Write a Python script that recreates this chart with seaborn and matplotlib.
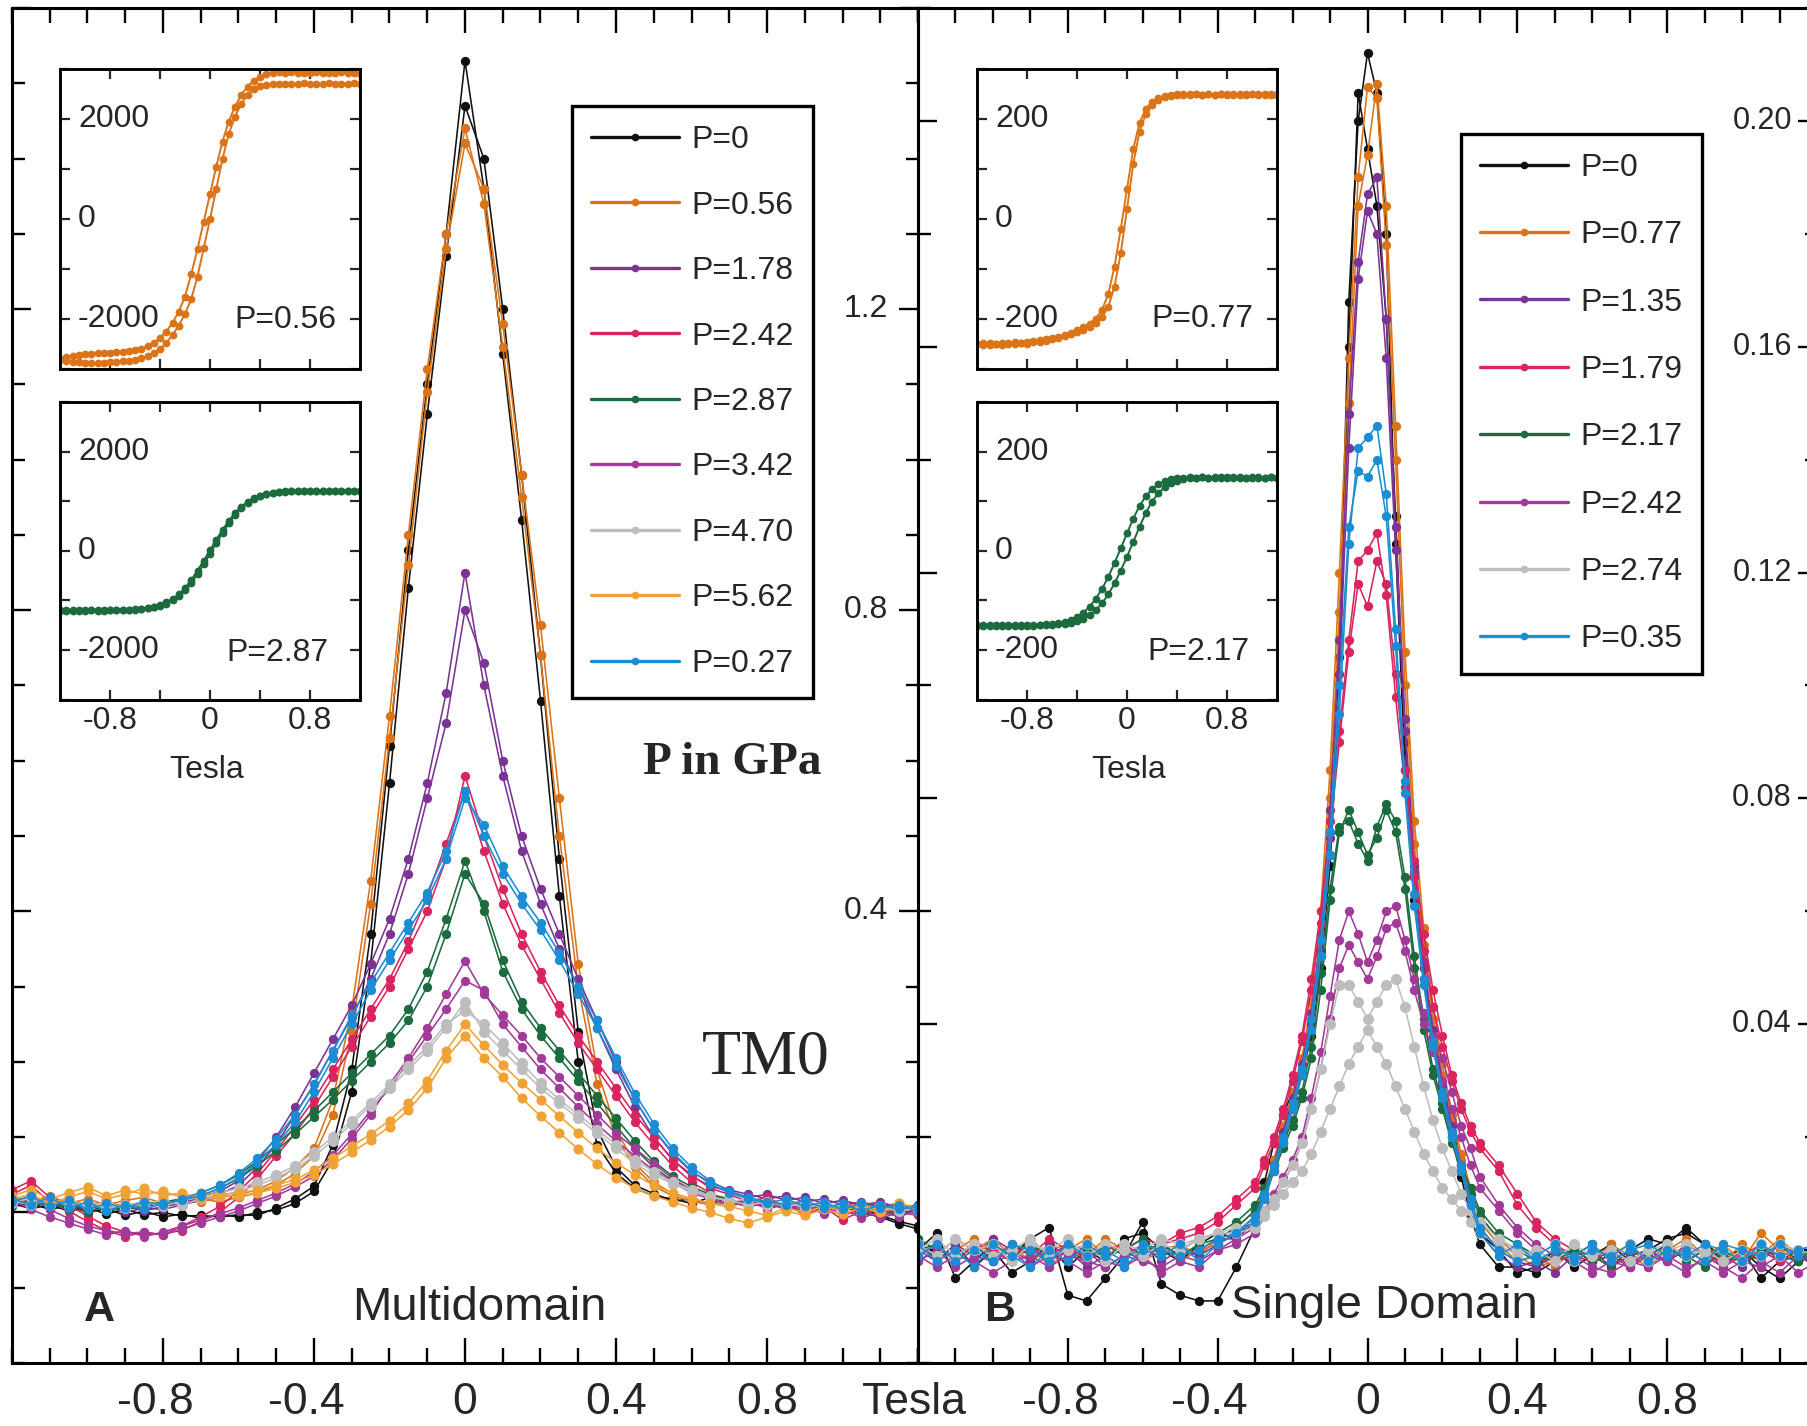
import matplotlib
matplotlib.use("Agg")
import matplotlib.pyplot as plt
import seaborn as sns
from matplotlib.ticker import MultipleLocator, FixedLocator
from matplotlib.lines import Line2D

# ---------------------------------------------------------------- data
FIELD_A = [-1.2, -1.15, -1.1, -1.05, -1.0, -0.95, -0.9, -0.85, -0.8, -0.75, -0.7, -0.65,
           -0.6, -0.55, -0.5, -0.45, -0.4, -0.35, -0.3, -0.25, -0.2, -0.15, -0.1, -0.05,
           0.0, 0.05, 0.1, 0.15, 0.2, 0.25, 0.3, 0.35, 0.4, 0.45, 0.5, 0.55, 0.6,
           0.65, 0.7, 0.75, 0.8, 0.85, 0.9, 0.95, 1.0, 1.05, 1.1, 1.15, 1.2]

FIELD_B = [-1.2, -1.15, -1.1, -1.05, -1.0, -0.95, -0.9, -0.85, -0.8, -0.75, -0.7, -0.65, -0.6,
           -0.55, -0.5, -0.45, -0.4, -0.35, -0.3,
           -0.275, -0.25, -0.225, -0.2, -0.175, -0.15, -0.125, -0.1, -0.075, -0.05, -0.025, 0.0,
           0.025, 0.05, 0.075, 0.1, 0.125, 0.15, 0.175, 0.2, 0.225, 0.25, 0.275,
           0.3, 0.35, 0.4, 0.45, 0.5, 0.55, 0.6, 0.65, 0.7, 0.75, 0.8, 0.85, 0.9, 0.95,
           1.0, 1.05, 1.1, 1.15, 1.2]

X_TICKS = [-0.8, -0.4, 0, 0.4, 0.8]
X_TICK_LABELS = ["-0.8", "-0.4", "0", "0.4", "0.8"]
A_LABELS = ["P=0", "P=0.56", "P=1.78", "P=2.42", "P=2.87", "P=3.42", "P=4.70", "P=5.62", "P=0.27"]
B_LABELS = ["P=0", "P=0.77", "P=1.35", "P=1.79", "P=2.17", "P=2.42", "P=2.74", "P=0.35"]

# Panel A (Multidomain) - two field sweeps per pressure
A_P000_UP = [0.012, 0.005, 0.010, 0.002, 0.006, -0.002, 0.004, -0.003, 0.000, -0.005, -0.004, -0.006,
             -0.003, -0.004, 0.006, 0.018, 0.035, 0.09, 0.19, 0.37, 0.62, 0.88, 1.10, 1.30,
             1.53, 1.36, 1.14, 0.92, 0.68, 0.42, 0.20, 0.09, 0.052, 0.032, 0.022, 0.018, 0.012,
             0.020, 0.014, 0.016, 0.008, 0.014, 0.005, 0.010, 0.004, 0.006, -0.004, -0.012, -0.018]
A_P000_DN = [0.008, 0.012, 0.004, 0.009, 0.000, 0.005, -0.004, 0.002, -0.006, -0.002, -0.008, -0.003,
             -0.006, 0.000, 0.003, 0.012, 0.028, 0.07, 0.16, 0.33, 0.57, 0.83, 1.06, 1.27,
             1.47, 1.40, 1.20, 0.98, 0.74, 0.47, 0.24, 0.11, 0.060, 0.036, 0.025, 0.015, 0.018,
             0.012, 0.018, 0.010, 0.016, 0.008, 0.012, 0.002, 0.008, 0.000, -0.006, -0.015, -0.022]
A_P056_UP = [0.020, 0.014, 0.022, 0.012, 0.018, 0.010, 0.016, 0.020, 0.012, 0.018, 0.014, 0.020,
             0.024, 0.030, 0.042, 0.060, 0.085, 0.15, 0.27, 0.44, 0.66, 0.90, 1.12, 1.30,
             1.44, 1.34, 1.15, 0.95, 0.74, 0.50, 0.30, 0.17, 0.10, 0.060, 0.035, 0.022, 0.015,
             0.010, 0.014, 0.008, 0.012, 0.006, 0.010, 0.004, 0.008, 0.012, 0.006, 0.010, 0.004]
A_P056_DN = [0.016, 0.020, 0.012, 0.016, 0.010, 0.014, 0.008, 0.014, 0.010, 0.012, 0.018, 0.014,
             0.020, 0.026, 0.036, 0.052, 0.075, 0.13, 0.24, 0.41, 0.63, 0.86, 1.09, 1.28,
             1.42, 1.36, 1.18, 0.98, 0.78, 0.55, 0.33, 0.19, 0.11, 0.065, 0.040, 0.025, 0.018,
             0.012, 0.008, 0.014, 0.006, 0.010, 0.004, 0.010, 0.006, 0.008, 0.012, 0.006, 0.010]
A_P178_UP = [0.018, 0.010, 0.016, 0.006, 0.012, 0.004, 0.010, 0.002, 0.008, 0.012, 0.020, 0.028,
             0.042, 0.068, 0.10, 0.14, 0.185, 0.23, 0.275, 0.33, 0.39, 0.47, 0.57, 0.69,
             0.85, 0.70, 0.58, 0.48, 0.41, 0.35, 0.30, 0.245, 0.19, 0.14, 0.10, 0.07, 0.048,
             0.035, 0.028, 0.020, 0.024, 0.016, 0.020, 0.012, 0.016, 0.010, 0.014, 0.006, 0.010]
A_P178_DN = [0.014, 0.020, 0.008, 0.014, 0.002, 0.008, 0.000, 0.006, 0.004, 0.010, 0.016, 0.024,
             0.036, 0.060, 0.09, 0.13, 0.17, 0.215, 0.26, 0.31, 0.37, 0.45, 0.55, 0.65,
             0.80, 0.73, 0.60, 0.50, 0.43, 0.37, 0.31, 0.255, 0.20, 0.15, 0.11, 0.078, 0.054,
             0.040, 0.030, 0.024, 0.018, 0.022, 0.014, 0.018, 0.010, 0.014, 0.008, 0.012, 0.004]
A_P242_UP = [0.030, 0.042, 0.020, 0.010, -0.005, -0.018, -0.026, -0.030, -0.028, -0.024, -0.012, 0.000,
             0.020, 0.045, 0.075, 0.105, 0.14, 0.18, 0.22, 0.26, 0.30, 0.35, 0.40, 0.47,
             0.58, 0.50, 0.43, 0.37, 0.32, 0.275, 0.235, 0.20, 0.165, 0.13, 0.10, 0.07, 0.05,
             0.032, 0.024, 0.014, 0.020, 0.008, 0.014, 0.002, 0.010, -0.004, 0.006, -0.002, 0.004]
A_P242_DN = [0.024, 0.036, 0.014, 0.002, -0.012, -0.024, -0.032, -0.026, -0.030, -0.018, -0.006, 0.008,
             0.028, 0.052, 0.082, 0.115, 0.15, 0.19, 0.23, 0.27, 0.31, 0.36, 0.42, 0.49,
             0.56, 0.48, 0.41, 0.355, 0.31, 0.265, 0.225, 0.19, 0.155, 0.12, 0.09, 0.062, 0.04,
             0.026, 0.012, 0.018, 0.004, 0.012, -0.004, 0.008, -0.010, 0.002, -0.006, 0.004, -0.002]
A_P287_UP = [0.015, 0.008, 0.014, 0.004, 0.010, 0.002, 0.006, 0.010, 0.014, 0.018, 0.026, 0.036,
             0.050, 0.068, 0.090, 0.112, 0.135, 0.16, 0.185, 0.21, 0.235, 0.27, 0.32, 0.39,
             0.467, 0.40, 0.32, 0.27, 0.235, 0.205, 0.175, 0.145, 0.115, 0.085, 0.06, 0.042, 0.03,
             0.022, 0.016, 0.012, 0.008, 0.014, 0.006, 0.010, 0.002, 0.008, 0.004, -0.004, 0.006]
A_P287_DN = [0.010, 0.016, 0.006, 0.012, 0.000, 0.008, 0.004, 0.008, 0.012, 0.016, 0.022, 0.032,
             0.045, 0.062, 0.082, 0.104, 0.127, 0.15, 0.175, 0.20, 0.225, 0.255, 0.30, 0.37,
             0.45, 0.41, 0.335, 0.28, 0.245, 0.215, 0.185, 0.155, 0.125, 0.095, 0.068, 0.048, 0.034,
             0.024, 0.018, 0.010, 0.014, 0.006, 0.012, 0.004, 0.010, 0.000, 0.006, 0.002, 0.010]
A_P342_UP = [0.010, 0.022, 0.004, -0.008, -0.018, -0.024, -0.028, -0.026, -0.030, -0.022, -0.014, -0.006,
             0.002, 0.012, 0.022, 0.034, 0.048, 0.070, 0.098, 0.13, 0.17, 0.205, 0.245, 0.29,
             0.334, 0.29, 0.262, 0.235, 0.205, 0.18, 0.155, 0.13, 0.105, 0.085, 0.065, 0.045, 0.03,
             0.020, 0.014, 0.008, 0.012, 0.004, 0.010, -0.002, 0.006, -0.008, 0.002, -0.006, 0.004]
A_P342_DN = [0.016, 0.004, -0.006, -0.014, -0.022, -0.030, -0.024, -0.032, -0.026, -0.018, -0.010, -0.002,
             0.006, 0.016, 0.026, 0.038, 0.054, 0.076, 0.104, 0.135, 0.165, 0.20, 0.235, 0.27,
             0.308, 0.295, 0.25, 0.22, 0.19, 0.165, 0.14, 0.117, 0.095, 0.075, 0.056, 0.04, 0.026,
             0.018, 0.010, 0.014, 0.006, 0.012, 0.000, 0.008, -0.004, 0.004, -0.008, 0.000, -0.004]
A_P470_UP = [0.012, 0.020, 0.010, 0.016, 0.008, 0.014, 0.006, 0.012, 0.016, 0.010, 0.018, 0.022,
             0.028, 0.036, 0.046, 0.058, 0.075, 0.095, 0.118, 0.142, 0.165, 0.19, 0.215, 0.245,
             0.28, 0.24, 0.215, 0.19, 0.165, 0.145, 0.125, 0.105, 0.085, 0.065, 0.05, 0.038, 0.028,
             0.020, 0.016, 0.010, 0.014, 0.008, 0.012, 0.006, 0.010, 0.004, 0.008, 0.002, 0.006]
A_P470_DN = [0.016, 0.010, 0.018, 0.008, 0.012, 0.004, 0.010, 0.014, 0.008, 0.016, 0.020, 0.026,
             0.032, 0.040, 0.050, 0.062, 0.080, 0.10, 0.122, 0.146, 0.17, 0.195, 0.22, 0.25,
             0.268, 0.25, 0.225, 0.198, 0.172, 0.15, 0.13, 0.11, 0.09, 0.07, 0.054, 0.04, 0.03,
             0.022, 0.014, 0.018, 0.010, 0.014, 0.006, 0.012, 0.004, 0.010, 0.002, 0.008, 0.004]
A_P562_UP = [0.022, 0.030, 0.018, 0.026, 0.034, 0.022, 0.030, 0.024, 0.028, 0.020, 0.026, 0.024,
             0.026, 0.030, 0.036, 0.044, 0.056, 0.072, 0.088, 0.104, 0.122, 0.145, 0.175, 0.215,
             0.25, 0.222, 0.196, 0.172, 0.15, 0.128, 0.106, 0.085, 0.066, 0.05, 0.036, 0.026, 0.018,
             0.012, 0.008, 0.002, -0.004, 0.006, 0.000, 0.008, 0.002, 0.010, 0.004, 0.012, 0.006]
A_P562_DN = [0.018, 0.024, 0.012, 0.020, 0.028, 0.018, 0.024, 0.032, 0.022, 0.026, 0.018, 0.022,
             0.022, 0.026, 0.032, 0.040, 0.050, 0.064, 0.080, 0.096, 0.114, 0.136, 0.165, 0.205,
             0.235, 0.205, 0.18, 0.152, 0.128, 0.106, 0.084, 0.064, 0.046, 0.032, 0.022, 0.014, 0.006,
             0.000, -0.008, -0.014, -0.006, 0.002, -0.004, 0.004, -0.002, 0.006, 0.000, 0.008, 0.002]
A_P027_UP = [0.014, 0.022, 0.008, 0.016, 0.004, 0.012, 0.006, 0.014, 0.010, 0.018, 0.026, 0.036,
             0.052, 0.072, 0.098, 0.13, 0.17, 0.215, 0.262, 0.305, 0.345, 0.385, 0.425, 0.48,
             0.56, 0.50, 0.45, 0.41, 0.375, 0.335, 0.29, 0.245, 0.195, 0.15, 0.11, 0.08, 0.055,
             0.038, 0.026, 0.018, 0.012, 0.018, 0.008, 0.014, 0.004, 0.012, 0.006, 0.010, 0.002]
A_P027_DN = [0.018, 0.010, 0.020, 0.006, 0.014, 0.002, 0.010, 0.004, 0.012, 0.016, 0.022, 0.032,
             0.046, 0.066, 0.090, 0.12, 0.16, 0.205, 0.25, 0.295, 0.335, 0.375, 0.415, 0.47,
             0.55, 0.515, 0.46, 0.42, 0.385, 0.345, 0.30, 0.255, 0.205, 0.158, 0.118, 0.085, 0.06,
             0.042, 0.028, 0.020, 0.014, 0.010, 0.016, 0.006, 0.012, 0.002, 0.010, 0.004, 0.008]

# Panel B (Single Domain)
B_P000_UP = [0.000, 0.003, -0.005, -0.002, 0.001, -0.001, 0.002, 0.004, -0.008, -0.009, -0.005, -0.001, 0.005, -0.006, -0.008, -0.009, -0.009, -0.003, 0.004,
             0.012, 0.019, 0.024, 0.028, 0.032, 0.040, 0.052, 0.070, 0.105, 0.168, 0.200, 0.212, 0.205, 0.180, 0.125, 0.085, 0.062, 0.048, 0.036, 0.028, 0.020, 0.013, 0.006,
             0.001, -0.003, -0.003, -0.004, -0.002, -0.001, 0.001, -0.002, 0.000, 0.002, 0.001, 0.004, 0.001, -0.002, 0.000, -0.003, -0.005, -0.002, -0.001]
B_P000_DN = [0.002, -0.002, 0.001, -0.003, 0.000, -0.004, -0.002, 0.001, -0.003, 0.000, -0.002, 0.002, 0.003, 0.000, -0.002, 0.001, 0.003, 0.002, 0.006,
             0.010, 0.016, 0.021, 0.026, 0.031, 0.038, 0.050, 0.068, 0.100, 0.160, 0.205, 0.195, 0.185, 0.165, 0.130, 0.090, 0.066, 0.050, 0.038, 0.029, 0.021, 0.014, 0.008,
             0.003, 0.000, -0.004, -0.003, 0.000, -0.003, -0.001, 0.001, -0.002, 0.000, 0.002, 0.003, 0.001, -0.001, 0.000, -0.005, -0.002, 0.000, -0.001]
B_P077_UP = [-0.001, 0.001, -0.002, 0.000, 0.002, -0.001, 0.001, -0.003, 0.000, 0.002, -0.001, 0.001, -0.002, 0.000, 0.001, -0.001, 0.002, 0.004, 0.007,
             0.011, 0.016, 0.022, 0.028, 0.034, 0.044, 0.060, 0.085, 0.120, 0.158, 0.190, 0.206, 0.204, 0.178, 0.140, 0.100, 0.072, 0.054, 0.041, 0.031, 0.023, 0.016, 0.010,
             0.005, 0.001, -0.002, -0.001, -0.003, 0.000, -0.002, 0.001, -0.001, -0.003, 0.000, 0.002, -0.001, 0.001, -0.002, 0.003, 0.000, -0.002, 0.001]
B_P077_DN = [0.001, -0.002, 0.000, 0.002, -0.001, 0.001, -0.002, 0.000, 0.001, -0.001, 0.002, 0.000, -0.001, 0.001, -0.002, 0.000, 0.001, 0.003, 0.006,
             0.010, 0.015, 0.020, 0.026, 0.032, 0.041, 0.056, 0.080, 0.113, 0.150, 0.185, 0.194, 0.2066, 0.185, 0.146, 0.106, 0.076, 0.057, 0.043, 0.033, 0.024, 0.017, 0.011,
             0.006, 0.002, -0.001, -0.003, -0.002, 0.000, -0.001, -0.003, 0.000, -0.002, 0.001, -0.001, 0.000, -0.002, 0.001, -0.001, 0.002, -0.001, 0.000]
B_P135_UP = [0.000, -0.002, 0.001, -0.001, 0.002, 0.000, -0.002, 0.001, -0.001, 0.000, -0.003, -0.001, 0.001, -0.002, 0.000, -0.001, 0.001, 0.003, 0.006,
             0.010, 0.015, 0.021, 0.027, 0.033, 0.042, 0.056, 0.078, 0.108, 0.148, 0.175, 0.187, 0.190, 0.165, 0.128, 0.094, 0.068, 0.051, 0.039, 0.030, 0.022, 0.015, 0.009,
             0.004, 0.000, -0.002, -0.003, -0.001, -0.002, 0.000, -0.003, -0.001, 0.000, -0.002, 0.001, -0.001, -0.003, 0.000, -0.002, 0.001, -0.001, -0.002]
B_P135_DN = [-0.002, 0.000, -0.001, 0.001, -0.002, -0.001, 0.001, -0.002, 0.000, -0.003, -0.001, 0.000, -0.002, 0.001, -0.001, 0.000, 0.002, 0.002, 0.005,
             0.009, 0.014, 0.019, 0.025, 0.031, 0.040, 0.053, 0.073, 0.102, 0.142, 0.172, 0.184, 0.180, 0.158, 0.124, 0.092, 0.067, 0.050, 0.038, 0.029, 0.021, 0.014, 0.008,
             0.003, -0.001, -0.003, -0.002, -0.004, -0.001, -0.002, 0.000, -0.003, -0.001, -0.002, 0.000, -0.002, -0.001, -0.003, 0.000, -0.002, -0.001, -0.003]
B_P179_UP = [0.001, -0.001, 0.002, 0.000, -0.002, 0.001, -0.001, 0.002, 0.000, -0.001, 0.001, 0.000, 0.002, 0.001, 0.003, 0.004, 0.006, 0.009, 0.012,
             0.016, 0.020, 0.025, 0.031, 0.038, 0.048, 0.060, 0.076, 0.092, 0.108, 0.122, 0.124, 0.127, 0.116, 0.098, 0.082, 0.066, 0.053, 0.043, 0.036, 0.030, 0.025, 0.021,
             0.018, 0.014, 0.008, 0.004, 0.001, -0.001, -0.002, 0.000, -0.002, -0.001, 0.001, -0.002, 0.000, -0.003, -0.001, 0.001, -0.002, 0.000, -0.001]
B_P179_DN = [-0.001, 0.001, -0.002, 0.001, 0.000, -0.002, 0.002, -0.001, 0.001, -0.002, 0.000, 0.001, -0.001, 0.001, 0.002, 0.003, 0.005, 0.008, 0.011,
             0.015, 0.019, 0.024, 0.030, 0.037, 0.046, 0.058, 0.074, 0.090, 0.106, 0.118, 0.114, 0.122, 0.118, 0.102, 0.085, 0.069, 0.056, 0.046, 0.038, 0.031, 0.026, 0.022,
             0.019, 0.015, 0.010, 0.005, 0.002, 0.000, -0.002, -0.001, -0.003, 0.000, -0.002, 0.001, -0.001, -0.002, 0.000, -0.002, 0.001, -0.001, 0.000]
B_P217_UP = [0.002, 0.000, -0.001, 0.001, -0.002, 0.000, 0.001, -0.001, 0.000, -0.002, 0.001, -0.001, 0.000, 0.001, -0.001, 0.001, 0.002, 0.004, 0.007,
             0.010, 0.014, 0.018, 0.022, 0.027, 0.034, 0.046, 0.062, 0.074, 0.078, 0.074, 0.070, 0.073, 0.078, 0.074, 0.064, 0.050, 0.039, 0.031, 0.025, 0.019, 0.014, 0.010,
             0.006, 0.002, 0.000, -0.002, -0.001, 0.000, -0.002, -0.001, 0.001, -0.002, 0.000, -0.001, -0.003, 0.000, -0.002, -0.001, 0.001, -0.002, 0.000]
B_P217_DN = [0.000, 0.001, -0.002, 0.000, 0.001, -0.001, 0.000, -0.002, 0.001, 0.000, -0.001, 0.000, 0.002, -0.001, 0.000, 0.002, 0.003, 0.005, 0.008,
             0.011, 0.015, 0.019, 0.023, 0.028, 0.036, 0.049, 0.064, 0.075, 0.076, 0.072, 0.069, 0.075, 0.079, 0.076, 0.066, 0.052, 0.041, 0.032, 0.026, 0.020, 0.015, 0.011,
             0.007, 0.003, 0.001, -0.001, -0.002, 0.000, -0.001, -0.003, 0.000, -0.001, 0.001, -0.002, 0.000, -0.001, -0.002, 0.000, -0.001, -0.002, 0.001]
B_P242_UP = [-0.002, 0.000, -0.003, -0.001, -0.002, 0.000, -0.003, -0.001, -0.002, -0.004, -0.002, -0.003, -0.001, -0.004, -0.002, -0.003, 0.000, 0.002, 0.004,
             0.007, 0.010, 0.013, 0.016, 0.020, 0.027, 0.035, 0.045, 0.055, 0.060, 0.056, 0.051, 0.055, 0.060, 0.061, 0.055, 0.048, 0.042, 0.038, 0.034, 0.028, 0.022, 0.018,
             0.013, 0.008, 0.004, 0.001, -0.001, -0.002, -0.004, -0.002, -0.003, 0.000, -0.002, -0.004, -0.001, -0.003, -0.005, -0.002, -0.004, -0.001, -0.003]
B_P242_DN = [-0.001, -0.003, -0.001, -0.002, -0.004, -0.002, -0.001, -0.003, -0.001, -0.002, -0.003, -0.001, -0.002, -0.003, -0.001, -0.002, 0.000, 0.001, 0.003,
             0.006, 0.009, 0.012, 0.015, 0.019, 0.025, 0.032, 0.041, 0.050, 0.054, 0.051, 0.048, 0.052, 0.057, 0.058, 0.053, 0.046, 0.040, 0.035, 0.030, 0.025, 0.020, 0.015,
             0.011, 0.007, 0.003, 0.000, -0.002, -0.001, -0.003, -0.004, -0.002, -0.003, -0.001, -0.003, -0.002, -0.004, -0.002, -0.003, -0.001, -0.004, -0.002]
B_P274_UP = [0.001, -0.001, 0.002, 0.000, 0.001, -0.002, 0.001, 0.000, 0.002, -0.001, 0.001, 0.000, -0.001, 0.001, 0.000, 0.002, 0.003, 0.004, 0.005,
             0.007, 0.009, 0.012, 0.015, 0.019, 0.025, 0.032, 0.040, 0.047, 0.047, 0.044, 0.041, 0.044, 0.047, 0.048, 0.043, 0.036, 0.029, 0.023, 0.018, 0.014, 0.010, 0.007,
             0.005, 0.002, 0.000, -0.001, 0.001, -0.002, 0.000, -0.001, 0.001, -0.002, 0.000, 0.001, -0.001, 0.000, -0.002, 0.001, -0.001, 0.000, 0.001]
B_P274_DN = [0.000, 0.002, -0.001, 0.001, -0.001, 0.000, 0.002, -0.001, 0.000, 0.001, -0.002, 0.001, 0.000, 0.002, 0.001, 0.002, 0.003, 0.003, 0.004,
             0.006, 0.008, 0.010, 0.012, 0.014, 0.017, 0.021, 0.025, 0.029, 0.033, 0.036, 0.039, 0.036, 0.033, 0.029, 0.025, 0.021, 0.017, 0.014, 0.011, 0.009, 0.007, 0.005,
             0.003, 0.001, -0.001, 0.000, -0.002, 0.001, -0.001, 0.000, -0.002, 0.000, 0.001, -0.001, 0.000, -0.002, 0.000, -0.001, 0.001, 0.000, -0.001]
B_P035_UP = [0.001, -0.002, 0.000, -0.003, 0.001, -0.001, -0.003, 0.000, -0.002, 0.001, -0.001, -0.003, 0.000, -0.001, 0.001, -0.002, 0.001, 0.003, 0.005,
             0.009, 0.014, 0.019, 0.025, 0.031, 0.039, 0.052, 0.070, 0.095, 0.125, 0.142, 0.144, 0.146, 0.134, 0.110, 0.083, 0.063, 0.048, 0.037, 0.028, 0.021, 0.015, 0.009,
             0.004, 0.000, -0.002, -0.001, 0.001, -0.002, 0.000, -0.001, 0.001, -0.002, 0.000, -0.001, 0.001, 0.000, -0.002, 0.001, -0.001, 0.000, 0.001]
B_P035_DN = [-0.001, 0.001, -0.002, 0.000, -0.002, 0.001, 0.000, -0.002, 0.001, -0.001, 0.000, -0.002, 0.001, 0.000, -0.001, 0.000, 0.002, 0.003, 0.006,
             0.010, 0.015, 0.020, 0.026, 0.032, 0.041, 0.055, 0.074, 0.100, 0.128, 0.138, 0.137, 0.140, 0.130, 0.107, 0.081, 0.061, 0.047, 0.036, 0.027, 0.020, 0.014, 0.008,
             0.003, -0.001, 0.001, -0.002, 0.000, -0.001, 0.001, -0.002, 0.000, 0.001, -0.001, 0.000, -0.002, 0.001, 0.000, -0.001, 0.001, -0.001, 0.000]

# Insets: magnetization loops (same field grid as panel A)
INS_A1_UP = [-2800, -2830, -2850, -2860, -2870, -2880, -2880, -2870, -2860, -2850, -2840, -2830,
             -2810, -2780, -2740, -2680, -2600, -2480, -2320, -2130, -1900, -1600, -1150, -580,
             0, 600, 1200, 1700, 2050, 2300, 2480, 2600, 2660, 2690, 2700, 2710, 2700,
             2710, 2700, 2720, 2700, 2710, 2700, 2720, 2700, 2710, 2700, 2720, 2710]
INS_A1_DN = [-2790, -2760, -2730, -2710, -2700, -2690, -2680, -2670, -2670, -2660, -2650, -2640,
             -2620, -2590, -2540, -2470, -2380, -2250, -2080, -1850, -1550, -1100, -600, -50,
             500, 1050, 1550, 1950, 2250, 2480, 2650, 2770, 2850, 2900, 2930, 2940, 2930,
             2940, 2930, 2920, 2930, 2940, 2930, 2920, 2930, 2940, 2930, 2920, 2900]
INS_A2_UP = [-1210, -1205, -1210, -1200, -1210, -1205, -1210, -1200, -1205, -1200, -1195, -1190,
             -1180, -1165, -1150, -1125, -1090, -1040, -970, -880, -750, -590, -400, -200,
             10, 220, 420, 600, 760, 890, 985, 1060, 1110, 1145, 1170, 1185, 1195,
             1200, 1205, 1200, 1210, 1205, 1200, 1210, 1205, 1200, 1210, 1205, 1200]
INS_A2_DN = [-1205, -1210, -1200, -1210, -1205, -1200, -1205, -1210, -1200, -1205, -1200, -1195,
             -1185, -1175, -1160, -1140, -1110, -1065, -1000, -915, -800, -650, -470, -270,
             -60, 150, 360, 550, 720, 860, 960, 1040, 1095, 1135, 1160, 1180, 1190,
             1200, 1195, 1205, 1200, 1195, 1205, 1200, 1210, 1200, 1205, 1195, 1205]
INS_B1_UP = [-250, -248, -252, -249, -251, -248, -250, -247, -249, -246, -245, -243,
             -240, -237, -234, -230, -226, -221, -215, -207, -196, -176, -135, -68,
             20, 110, 175, 210, 228, 238, 244, 247, 249, 250, 248, 251, 249,
             250, 248, 251, 249, 250, 248, 251, 250, 249, 251, 248, 250]
INS_B1_DN = [-249, -251, -248, -250, -247, -249, -246, -248, -245, -244, -242, -240,
             -238, -235, -231, -227, -222, -216, -209, -199, -182, -150, -95, -20,
             60, 140, 192, 220, 234, 242, 246, 248, 250, 249, 251, 250, 248,
             250, 249, 251, 250, 248, 250, 249, 251, 250, 248, 250, 249]
INS_B2_UP = [-151, -150, -152, -150, -151, -149, -151, -150, -152, -150, -149, -148,
             -147, -146, -143, -139, -133, -125, -113, -97, -77, -53, -25, 5,
             35, 65, 90, 110, 124, 134, 140, 144, 146, 147, 148, 147, 148,
             147, 148, 146, 148, 147, 148, 147, 146, 148, 147, 148, 147]
INS_B2_DN = [-150, -152, -150, -151, -149, -151, -150, -152, -150, -151, -150, -150,
             -149, -148, -147, -145, -142, -137, -130, -120, -106, -88, -66, -40,
             -12, 18, 48, 76, 99, 116, 128, 136, 141, 144, 146, 147, 148,
             147, 146, 148, 147, 148, 146, 147, 148, 147, 146, 148, 147]

# ---------------------------------------------------------------- style
BLACK, ORANGE, PURPLE, CRIMSON = "#111111", "#db7318", "#7b3394", "#d9245e"
GREEN, MAGENTA, GRAY, LORANGE, BLUE = "#1c6b3e", "#a13a98", "#bdbdbd", "#f0a235", "#1b8dd4"
A_COLORS = [BLACK, ORANGE, PURPLE, CRIMSON, GREEN, MAGENTA, GRAY, LORANGE, BLUE]
B_COLORS = [BLACK, ORANGE, PURPLE, CRIMSON, GREEN, MAGENTA, GRAY, BLUE]

A_SERIES = [(A_P000_UP, A_P000_DN), (A_P056_UP, A_P056_DN), (A_P178_UP, A_P178_DN),
            (A_P242_UP, A_P242_DN), (A_P287_UP, A_P287_DN), (A_P342_UP, A_P342_DN),
            (A_P470_UP, A_P470_DN), (A_P562_UP, A_P562_DN), (A_P027_UP, A_P027_DN)]
B_SERIES = [(B_P000_UP, B_P000_DN), (B_P077_UP, B_P077_DN), (B_P135_UP, B_P135_DN),
            (B_P179_UP, B_P179_DN), (B_P217_UP, B_P217_DN), (B_P242_UP, B_P242_DN),
            (B_P274_UP, B_P274_DN), (B_P035_UP, B_P035_DN)]

sns.set_theme(style="ticks")
plt.rcParams['font.family'] = ['Liberation Sans', 'DejaVu Sans']
plt.rcParams['axes.unicode_minus'] = False

W, H = 1807, 1426
fig = plt.figure(figsize=(W / 100, H / 100), dpi=100)
fig.patch.set_facecolor("white")


def px_axes(x0, y0, x1, y1):
    return fig.add_axes([x0 / W, 1 - y1 / H, (x1 - x0) / W, (y1 - y0) / H])


def fx(p):
    return p / W


def fy(p):
    return 1 - p / H


def draw(ax, xs, ys, color, ms, lw):
    sns.lineplot(x=xs, y=ys, ax=ax, color=color, linewidth=lw, marker='o',
                 markersize=ms, markeredgewidth=0, sort=False, estimator=None,
                 legend=False)


axA = px_axes(12, 8, 918, 1363)
axB = px_axes(918, 8, 1817, 1363)
axB.patch.set_visible(False)

for (up, dn), c in zip(A_SERIES, A_COLORS):
    ms = 8.0 if c == GRAY else (7.3 if c == LORANGE else 6.7)
    draw(axA, FIELD_A, up, c, ms, 1.15)
    draw(axA, FIELD_A, dn, c, ms, 1.15)
for (up, dn), c in zip(B_SERIES, B_COLORS):
    ms = 8.0 if c == GRAY else 6.7
    draw(axB, FIELD_B, up, c, ms, 1.15)
    draw(axB, FIELD_B, dn, c, ms, 1.15)

for ax in (axA, axB):
    ax.set_xlabel("")
    ax.set_ylabel("")
    ax.set_xlim(-1.2, 1.2)
    ax.xaxis.set_major_locator(FixedLocator(X_TICKS))
    ax.xaxis.set_minor_locator(MultipleLocator(0.1))
    ax.tick_params(axis='both', which='both', direction='in', top=True, bottom=True,
                   left=True, right=True, labelleft=False, labelright=False,
                   labelbottom=False, color='black')
    ax.tick_params(axis='x', which='major', length=18, width=1.7)
    ax.tick_params(axis='x', which='minor', length=10.5, width=1.7)
    ax.tick_params(axis='y', which='major', length=14, width=1.7)
    ax.tick_params(axis='y', which='minor', length=9, width=1.7)
    for s in ax.spines.values():
        s.set_linewidth(2.2)
        s.set_color('black')
    # x tick labels: the number (without the sign) is centred under its tick
    for v, t in zip(X_TICKS, X_TICK_LABELS):
        shift = -0.021 if v < 0 else 0.0
        ax.text(v + shift, -0.0295, t, transform=ax.get_xaxis_transform(),
                ha='center', va='center', fontsize=32, clip_on=False)

axA.set_ylim(-0.2, 1.6)
axA.yaxis.set_major_locator(MultipleLocator(0.4))
axA.yaxis.set_minor_locator(MultipleLocator(0.1))
axB.set_ylim(-0.02, 0.22)
axB.yaxis.set_major_locator(MultipleLocator(0.04))
axB.yaxis.set_minor_locator(MultipleLocator(0.02))

for v, t in [(0.4, "0.4"), (0.8, "0.8"), (1.2, "1.2")]:
    axA.text(0.967, v, t, transform=axA.get_yaxis_transform(), ha='right', va='center', fontsize=23)
for v, t in [(0.04, "0.04"), (0.08, "0.08"), (0.12, "0.12"), (0.16, "0.16"), (0.20, "0.20")]:
    axB.text(0.972, v, t, transform=axB.get_yaxis_transform(), ha='right', va='center', fontsize=22)


# legends
def make_legend(ax, labels, colors, x0, y0, spacing):
    handles = [Line2D([0], [0], color=c, lw=2.4, marker='o', markersize=5.5, markeredgewidth=0)
               for c in colors]
    leg = ax.legend(handles, labels, loc='upper left', bbox_to_anchor=(fx(x0), fy(y0)),
                    bbox_transform=fig.transFigure, borderaxespad=0, frameon=True,
                    fancybox=False, edgecolor='black', framealpha=1, fontsize=23,
                    borderpad=0.6, labelspacing=spacing, handlelength=2.75, handletextpad=0.4)
    leg.get_frame().set_linewidth(2.4)
    leg.set_zorder(10)
    return leg


make_legend(axA, A_LABELS, A_COLORS, 571.6, 106, 1.11)
make_legend(axB, B_LABELS, B_COLORS, 1461, 133.7, 1.17)


# insets
def make_inset(box, up, dn, color, ylim, ymaj, ylabels, ptext, ptx, pty, xlabels):
    ax = px_axes(*box)
    ax.set_zorder(5)
    ax.set_facecolor('white')
    draw(ax, FIELD_A, up, color, 5.6, 1.4)
    draw(ax, FIELD_A, dn, color, 5.6, 1.4)
    ax.set_xlabel("")
    ax.set_ylabel("")
    ax.set_xlim(-1.2, 1.2)
    ax.set_ylim(*ylim)
    ax.xaxis.set_major_locator(FixedLocator(X_TICKS))
    ax.yaxis.set_major_locator(MultipleLocator(ymaj))
    ax.tick_params(axis='both', which='both', direction='in', top=True, bottom=True,
                   left=True, right=True, labelleft=False, length=7, width=1.6)
    if xlabels:
        ax.set_xticklabels(["-0.8", "", "0", "", "0.8"])
        ax.tick_params(axis='x', labelsize=23, pad=5)
    else:
        ax.tick_params(axis='x', labelbottom=False)
    for v, t in ylabels:
        ax.text(0.06, v, t, transform=ax.get_yaxis_transform(), ha='left', va='center', fontsize=23)
    ax.text(ptx, pty, ptext, transform=ax.transAxes, ha='right', va='center', fontsize=23)
    for s in ax.spines.values():
        s.set_linewidth(2.1)
        s.set_color('black')
    return ax


YA = [(2000, "2000"), (0, "0"), (-2000, "-2000")]
YB = [(200, "200"), (0, "0"), (-200, "-200")]
make_inset((60, 69, 360, 369), INS_A1_UP, INS_A1_DN, ORANGE, (-3000, 3000), 1000, YA, "P=0.56", 0.92, 0.163, False)
make_inset((60, 402, 360, 699.5), INS_A2_UP, INS_A2_DN, GREEN, (-3000, 3000), 1000, YA, "P=2.87", 0.895, 0.155, True)
make_inset((977, 69, 1277, 369), INS_B1_UP, INS_B1_DN, ORANGE, (-300, 300), 100, YB, "P=0.77", 0.92, 0.167, False)
make_inset((977, 402, 1277, 699.5), INS_B2_UP, INS_B2_DN, GREEN, (-300, 300), 100, YB, "P=2.17", 0.91, 0.16, True)

fig.text(fx(207), fy(770), "Tesla", ha='center', va='center', fontsize=23)
fig.text(fx(1129), fy(770), "Tesla", ha='center', va='center', fontsize=23)

# annotations
fig.text(fx(99), fy(1310), "A", ha='center', va='center', fontsize=31, fontweight='bold')
fig.text(fx(479), fy(1308), "Multidomain", ha='center', va='center', fontsize=34)
fig.text(fx(1000), fy(1310), "B", ha='center', va='center', fontsize=31, fontweight='bold')
fig.text(fx(1384), fy(1306), "Single Domain", ha='center', va='center', fontsize=34)
fig.text(fx(732), fy(763), "P in GPa", ha='center', va='center', fontsize=34,
         fontweight='bold', family=['Liberation Serif', 'DejaVu Serif'])
fig.text(fx(766), fy(1058), "TM0", ha='center', va='center', fontsize=46,
         family=['Liberation Serif', 'DejaVu Serif'])
fig.text(fx(914), fy(1402), "Tesla", ha='center', va='center', fontsize=32)

fig.savefig("out.png", dpi=100)
